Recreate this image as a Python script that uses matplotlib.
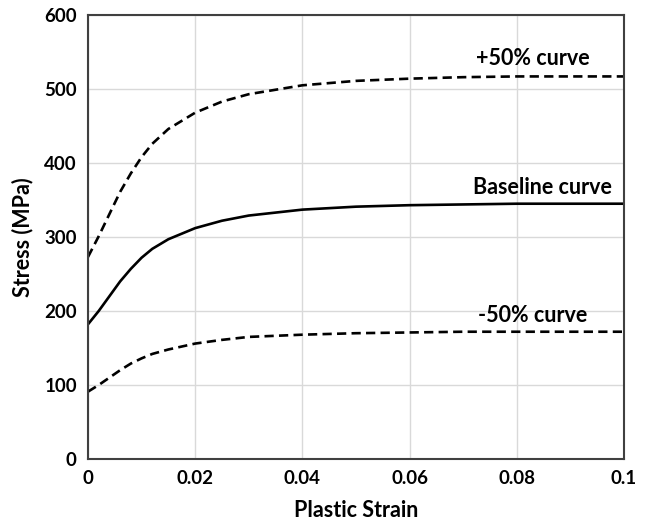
import matplotlib
matplotlib.use("Agg")
import matplotlib.pyplot as plt
from matplotlib.ticker import FixedLocator

plt.rcParams['font.family'] = ['Lato', 'DejaVu Sans']

strain = [0, 0.002, 0.004, 0.006, 0.008, 0.010, 0.012, 0.015, 0.020, 0.025,
          0.030, 0.040, 0.050, 0.060, 0.070, 0.080, 0.090, 0.100]
baseline = [182, 200, 220, 240, 257, 272, 284, 297, 312, 322,
            329, 337, 341, 343, 344, 345, 345, 345]
plus50 = [273, 301, 331, 361, 386, 408, 426, 446, 468, 483,
          493, 505, 511, 514, 516, 517, 517, 517]
minus50 = [91, 100, 110, 120, 129, 136, 142, 148, 156, 161,
           165, 168, 170, 171, 172, 172, 172, 172]

xticks = [0, 0.02, 0.04, 0.06, 0.08, 0.1]
xticklabels = ["0", "0.02", "0.04", "0.06", "0.08", "0.1"]
yticks = [0, 100, 200, 300, 400, 500, 600]

fig = plt.figure(figsize=(6.63, 5.25), dpi=100)
ax = fig.add_axes([0.1327, 0.1257, 0.8083, 0.8457])

ax.plot(strain, plus50, color='black', lw=1.9, ls=(0, (3.5, 2)))
ax.plot(strain, baseline, color='black', lw=1.9)
ax.plot(strain, minus50, color='black', lw=1.9, ls=(0, (3.5, 2)))

ax.set_xlim(0, 0.1)
ax.set_ylim(0, 600)
ax.xaxis.set_major_locator(FixedLocator(xticks))
ax.set_xticklabels(xticklabels)
ax.yaxis.set_major_locator(FixedLocator(yticks))
ax.grid(True, color='#d9d9d9', lw=1)
ax.set_axisbelow(True)
ax.tick_params(length=0, labelsize=13.5, pad=8)
for lab in ax.get_xticklabels() + ax.get_yticklabels():
    lab.set_fontweight('bold')
for s in ax.spines.values():
    s.set_color('#404040')
    s.set_linewidth(1.5)

ax.set_xlabel("Plastic Strain", fontsize=15.5, fontweight='bold', labelpad=9)
ax.set_ylabel("Stress (MPa)", fontsize=15.5, fontweight='bold', labelpad=8)

ax.text(0.0937, 541, "+50% curve", ha='right', va='center', fontsize=15.5, fontweight='bold')
ax.text(0.0978, 367, "Baseline curve", ha='right', va='center', fontsize=15.5, fontweight='bold')
ax.text(0.0931, 194, "-50% curve", ha='right', va='center', fontsize=15.5, fontweight='bold')

fig.savefig("out.png", dpi=100)
